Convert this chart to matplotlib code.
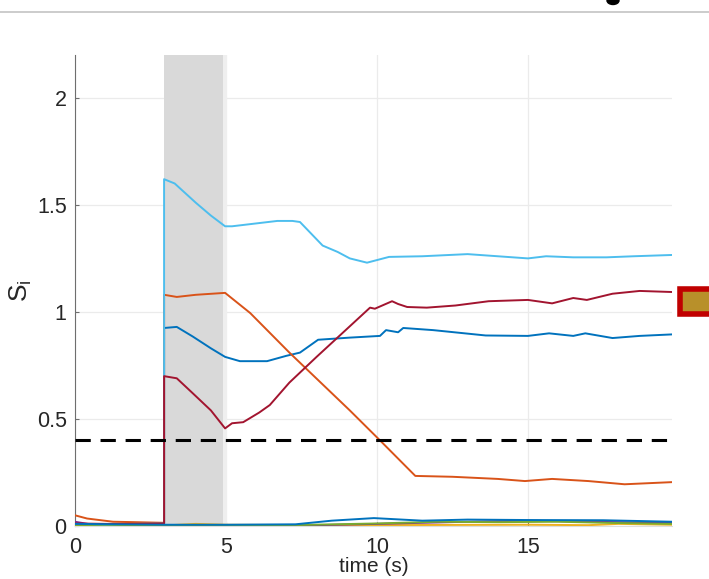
import matplotlib.pyplot as plt
from matplotlib.patches import Rectangle, Ellipse
from matplotlib.lines import Line2D

plt.rcParams['font.family'] = ['Liberation Sans', 'DejaVu Sans']
plt.rcParams['mathtext.fontset'] = 'custom'
plt.rcParams['mathtext.rm'] = 'Liberation Sans'

# --- data ---
t_blue = [0, 1, 2, 2.95, 2.95, 3.37, 3.9, 4.5, 4.97, 5.46, 6.36, 7.0, 7.45, 8.05, 9.1, 10.1, 10.3,
          10.7, 10.87, 11.86, 13.6, 15.0, 15.7, 16.5, 16.9, 17.8, 18.7, 19.77]
s_blue = [0.01, 0.008, 0.01, 0.01, 0.925, 0.93, 0.885, 0.83, 0.79, 0.77, 0.77, 0.795, 0.81, 0.87,
          0.88, 0.888, 0.915, 0.905, 0.925, 0.915, 0.89, 0.888, 0.90, 0.888, 0.90, 0.878, 0.888, 0.895]

t_orange = [0, 0.4, 1.26, 2.0, 2.95, 2.95, 3.37, 4.0, 4.97, 5.8, 7.1, 9.1, 10.1, 11.27, 12.5,
            14.0, 14.9, 15.8, 17.0, 18.2, 19.77]
s_orange = [0.05, 0.035, 0.02, 0.018, 0.015, 1.08, 1.07, 1.08, 1.089, 0.995, 0.81, 0.54, 0.40,
            0.234, 0.23, 0.22, 0.21, 0.22, 0.21, 0.195, 0.205]

t_yellow = [0, 3, 4, 5, 8, 12, 15, 17, 18, 19.77]
s_yellow = [0.004, 0.003, 0.01, 0.006, 0.004, 0.005, 0.006, 0.004, 0.01, 0.006]

t_purple = [0, 0.5, 2, 5, 8, 10, 13, 15, 17, 19.77]
s_purple = [0.02, 0.008, 0.004, 0.003, 0.004, 0.01, 0.02, 0.025, 0.02, 0.015]

t_green = [0, 3, 5, 7.5, 10, 12, 14, 16, 18, 19.77]
s_green = [0.005, 0.004, 0.004, 0.005, 0.012, 0.02, 0.018, 0.02, 0.014, 0.01]

t_lblue = [0, 1, 2, 2.95, 2.95, 3.3, 4.0, 4.5, 4.97, 5.2, 5.8, 6.7, 7.2, 7.45, 8.2, 8.7, 9.1,
           9.67, 10.4, 11.5, 13.0, 14.0, 15.0, 15.6, 16.5, 17.6, 18.5, 19.77]
s_lblue = [0.01, 0.008, 0.01, 0.012, 1.62, 1.60, 1.51, 1.45, 1.40, 1.40, 1.41, 1.425, 1.425,
           1.42, 1.31, 1.28, 1.25, 1.23, 1.257, 1.26, 1.27, 1.26, 1.25, 1.26, 1.255, 1.255, 1.26, 1.266]

t_red = [0, 1, 2, 2.95, 2.95, 3.37, 3.9, 4.5, 4.97, 5.2, 5.57, 6.1, 6.45, 7.1, 8.0, 8.77, 9.77,
         9.93, 10.5, 10.7, 11.0, 11.65, 12.6, 13.7, 15.0, 15.8, 16.5, 16.95, 17.8, 18.7, 19.77]
s_red = [0.012, 0.01, 0.01, 0.012, 0.70, 0.69, 0.62, 0.54, 0.456, 0.48, 0.485, 0.53, 0.565, 0.67,
         0.79, 0.89, 1.02, 1.015, 1.05, 1.037, 1.023, 1.02, 1.03, 1.05, 1.056, 1.04, 1.065, 1.056,
         1.085, 1.098, 1.093]

t_blue2 = [0, 3, 5, 7.3, 8.5, 9.9, 11.5, 13.0, 15.0, 17.5, 19.77]
s_blue2 = [0.01, 0.006, 0.006, 0.008, 0.025, 0.037, 0.025, 0.03, 0.028, 0.027, 0.02]

stim_on, stim_off = 2.95, 4.9
threshold = 0.4

fig = plt.figure(figsize=(7.09, 5.79), dpi=100)
ax = fig.add_axes([0.1058, 0.0915, 0.8420, 0.8135])

ax.axvspan(stim_on, stim_off, color='#d9d9d9', lw=0, zorder=1)
ax.axvspan(stim_off, 5.02, color='#efefef', lw=0, zorder=1)

series = [
    (t_blue, s_blue, '#0072BD'),
    (t_orange, s_orange, '#D95319'),
    (t_yellow, s_yellow, '#EDB120'),
    (t_purple, s_purple, '#7E2F8E'),
    (t_green, s_green, '#77AC30'),
    (t_lblue, s_lblue, '#4DBEEE'),
    (t_red, s_red, '#A2142F'),
    (t_blue2, s_blue2, '#0072BD'),
]
for t, s, c in series:
    ax.plot(t, s, color=c, lw=1.4, zorder=3)

ax.axhline(threshold, color='black', lw=2.2, ls=(0, (5, 3.2)), zorder=4)

ax.set_xlim(0, 19.77)
ax.set_ylim(0, 2.2)
ax.set_xticks([0, 5, 10, 15])
ax.set_yticks([0, 0.5, 1, 1.5, 2])
ax.set_yticklabels(['0', '0.5', '1', '1.5', '2'])
ax.grid(True, color='#ebebeb', lw=0.9, zorder=0)
ax.set_axisbelow(True)
ax.tick_params(direction='in', length=3, width=0.8, color='#6e6e6e',
               labelsize=15.5, labelcolor='#262626', pad=6)
ax.tick_params(axis='x', pad=8)
for side in ['top', 'right']:
    ax.spines[side].set_visible(False)
ax.spines['left'].set_color('#6e6e6e')
ax.spines['bottom'].set_color('#dddddd')
ax.set_xlabel('time (s)', fontsize=15, color='#262626', labelpad=-1)
ax.set_ylabel(r'S$_\mathregular{i}$', fontsize=19, color='#262626')
ax.yaxis.set_label_coords(-0.068, 0.5)

# frame decorations cut from the original figure
fig.add_artist(Line2D([0, 1], [1 - 12 / 579] * 2, color='#c4c4c4', lw=1.2))
fig.add_artist(Ellipse((613 / 709, 1 - 0.5 / 579), 12 / 709, 8 / 579, color='black'))
fig.add_artist(Rectangle((679.5 / 709, 1 - 313.5 / 579), 35 / 709, 25 / 579,
                         facecolor='#b8902a', edgecolor='#c00000', lw=4, clip_on=False))

plt.savefig('out.png', dpi=100)
